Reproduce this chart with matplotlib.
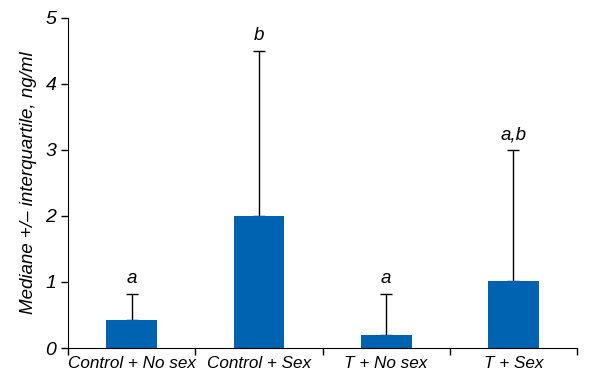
import numpy as np
import matplotlib.pyplot as plt

groups = ['Control + No sex', 'Control + Sex', 'T + No sex', 'T + Sex']
medians = [0.42, 2.0, 0.2, 1.02]
upper = [0.82, 4.5, 0.82, 3.0]
letters = ['a', 'b', 'a', 'a,b']

plt.rcParams['font.family'] = ['Liberation Sans', 'DejaVu Sans']
plt.rcParams['font.style'] = 'italic'

fig = plt.figure(figsize=(6.15, 3.82), dpi=100)
ax = fig.add_axes([0.111, 0.089, 0.827, 0.864])

x = np.arange(len(groups))
err = np.array(upper) - np.array(medians)
ax.bar(x, medians, width=0.4, color='#0063b1', zorder=2)
ax.errorbar(x, medians, yerr=[np.zeros(len(x)), err], fmt='none',
            ecolor='black', elinewidth=1, capsize=4.5, capthick=1, zorder=1)

for xi, top, lab in zip(x, upper, letters):
    ax.text(xi, top + 0.1, lab, ha='center', va='bottom', fontsize=13.5)

ax.set_xlim(-0.5, 3.5)
ax.set_ylim(0, 5)
ax.set_xticks(np.arange(-0.5, 4, 1))
ax.set_xticklabels([])
ax.set_xticks(x, minor=True)
ax.set_xticklabels(groups, minor=True, fontsize=12.3)
ax.tick_params(axis='x', which='minor', length=0, pad=6)
ax.tick_params(axis='x', which='major', length=5, width=1)
ax.set_yticks(range(6))
ax.tick_params(axis='y', labelsize=14, length=5, width=1)
ax.set_ylabel('Mediane +/\u2013 interquartile, ng/ml', fontsize=13.5, labelpad=6)
ax.spines['top'].set_visible(False)
ax.spines['right'].set_visible(False)

fig.savefig('out.png', dpi=100)
